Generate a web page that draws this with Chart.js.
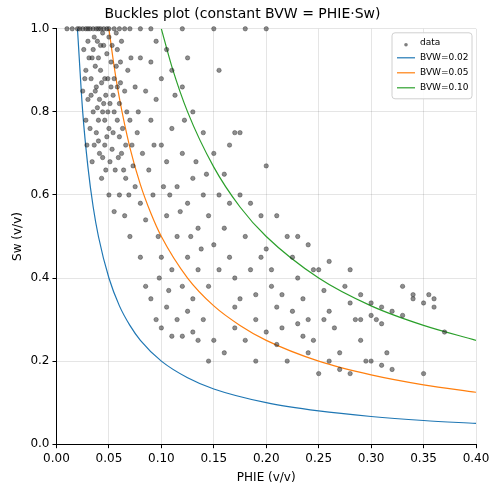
<!DOCTYPE html>
<html>
<head>
<meta charset="utf-8">
<script src="https://cdn.jsdelivr.net/npm/chart.js@4/dist/chart.umd.min.js"></script>
<style>
  html, body { margin: 0; padding: 0; background: #fff; }
  #wrap { width: 498px; height: 492px; }
</style>
</head>
<body>
<div id="wrap"><canvas id="chart"></canvas></div>
<script>
// scatter points: [PHIE, Sw]
const scatterPoints = [
  [0.01,1],[0.015,1],[0.02,1],[0.022,1],[0.025,1],[0.028,1],[0.03,1],[0.032,1],[0.035,1],[0.038,1],
  [0.04,1],[0.042,1],[0.045,1],[0.048,1],[0.05,1],[0.055,1],[0.06,1],[0.065,1],[0.07,1],[0.08,1],
  [0.09,1],[0.12,1],[0.15,1],[0.18,1],[0.2,1],
  [0.03,0.97],[0.035,0.95],[0.04,0.93],[0.045,0.96],[0.05,0.98],[0.028,0.9],[0.033,0.88],[0.038,0.86],
  [0.042,0.9],[0.047,0.84],[0.052,0.92],[0.055,0.88],[0.058,0.95],[0.06,0.82],[0.035,0.8],[0.04,0.78],
  [0.045,0.82],[0.05,0.76],[0.055,0.8],[0.06,0.74],[0.065,0.85],[0.068,0.9],[0.07,0.78],[0.03,0.83],
  [0.032,0.76],[0.036,0.72],[0.041,0.7],[0.046,0.72],[0.051,0.68],[0.056,0.66],[0.062,0.7],[0.066,0.64],
  [0.072,0.72],[0.075,0.86],[0.078,0.8],[0.08,0.93],[0.044,0.99],[0.039,0.97],[0.048,0.94],[0.053,0.96],
  [0.057,0.99],[0.062,0.97],[0.043,0.87],[0.049,0.88],[0.054,0.84],[0.037,0.91],[0.041,0.83],[0.046,0.78],
  [0.058,0.78],[0.063,0.76],[0.028,0.78],[0.025,0.85],[0.034,0.68],[0.043,0.64],[0.05,0.6],[0.055,0.56],
  [0.06,0.6],[0.065,0.55],[0.07,0.5],[0.075,0.62],[0.08,0.58],[0.085,0.54],[0.04,0.73],[0.047,0.66],
  [0.031,0.93],[0.036,0.98],[0.044,0.8],[0.052,0.86],[0.057,0.91],[0.061,0.87],[0.067,0.8],[0.071,0.93],
  [0.026,0.95],[0.033,0.84],[0.039,0.81],[0.048,0.74],[0.053,0.71],[0.059,0.69],[0.064,0.66],[0.069,0.6],
  [0.029,0.72],[0.034,0.93],[0.038,0.75],[0.042,0.96],[0.046,0.88],[0.051,0.82],[0.054,0.75],[0.058,0.86],
  [0.044,0.69],[0.049,0.8],[0.061,0.92],[0.066,0.72],[0.073,0.67],[0.077,0.75],[0.027,0.88],[0.037,0.85],
  [0.085,0.85],[0.09,0.78],[0.095,0.83],[0.1,0.72],[0.105,0.68],[0.11,0.76],[0.115,0.62],[0.12,0.7],
  [0.125,0.58],[0.13,0.64],[0.135,0.52],[0.14,0.6],[0.145,0.55],[0.15,0.48],[0.088,0.66],[0.092,0.6],
  [0.097,0.5],[0.1,0.45],[0.105,0.55],[0.11,0.42],[0.115,0.5],[0.12,0.38],[0.125,0.45],[0.13,0.35],
  [0.135,0.42],[0.14,0.3],[0.145,0.38],[0.15,0.25],[0.08,0.45],[0.085,0.38],[0.09,0.35],[0.095,0.3],
  [0.1,0.28],[0.105,0.33],[0.11,0.26],[0.115,0.3],[0.12,0.26],[0.09,0.92],[0.1,0.88],[0.11,0.9],
  [0.12,0.86],[0.13,0.8],[0.14,0.75],[0.15,0.7],[0.155,0.9],[0.16,0.65],[0.17,0.75],[0.175,0.6],
  [0.125,0.93],[0.105,0.95],[0.095,0.97],[0.082,0.7],[0.093,0.72],[0.102,0.62],[0.108,0.6],[0.118,0.56],
  [0.128,0.5],[0.138,0.47],[0.143,0.65],[0.133,0.68],[0.122,0.78],[0.113,0.84],[0.098,0.4],[0.107,0.37],
  [0.155,0.6],[0.16,0.52],[0.165,0.45],[0.17,0.4],[0.175,0.35],[0.18,0.5],[0.185,0.42],[0.19,0.3],
  [0.195,0.55],[0.2,0.47],[0.205,0.38],[0.21,0.33],[0.215,0.28],[0.22,0.5],[0.225,0.45],[0.23,0.4],
  [0.235,0.35],[0.24,0.3],[0.245,0.25],[0.25,0.42],[0.255,0.37],[0.26,0.32],[0.265,0.28],[0.27,0.22],
  [0.275,0.38],[0.28,0.34],[0.285,0.3],[0.29,0.25],[0.295,0.2],[0.3,0.34],[0.305,0.3],[0.31,0.33],
  [0.315,0.22],[0.32,0.18],[0.33,0.38],[0.34,0.35],[0.35,0.34],[0.355,0.36],[0.36,0.35],[0.37,0.27],
  [0.35,0.17],[0.16,0.22],[0.17,0.28],[0.18,0.25],[0.19,0.2],[0.2,0.27],[0.21,0.24],[0.22,0.2],
  [0.23,0.29],[0.24,0.22],[0.25,0.17],[0.26,0.2],[0.27,0.18],[0.28,0.17],[0.29,0.3],[0.3,0.2],
  [0.31,0.19],[0.165,0.72],[0.175,0.75],[0.2,0.67],[0.185,0.58],[0.21,0.55],[0.24,0.48],[0.26,0.44],
  [0.23,0.5],[0.28,0.42],[0.29,0.36],[0.3,0.31],[0.31,0.29],[0.32,0.32],[0.33,0.31],[0.34,0.36],
  [0.36,0.33],[0.245,0.42],[0.255,0.3],[0.205,0.42],[0.215,0.36],[0.19,0.36],[0.17,0.33],[0.155,0.42],
  [0.145,0.2],[0.13,0.27],[0.125,0.32],[0.135,0.25],[0.225,0.32],[0.235,0.26],[0.195,0.45],[0.165,0.58]
];

// curve points, BVW = 0.02 / 0.05 / 0.10
const phi002 = [0.02,0.025,0.03,0.035,0.04,0.05,0.06,0.07,0.08,0.1,0.125,0.15,0.2,0.25,0.3,0.35,0.4];
const sw002  = [1,0.8,0.667,0.571,0.5,0.4,0.333,0.286,0.25,0.2,0.16,0.133,0.1,0.08,0.0667,0.0571,0.05];
const phi005 = [0.05,0.055,0.06,0.07,0.08,0.09,0.1,0.125,0.15,0.175,0.2,0.25,0.3,0.35,0.4];
const sw005  = [1,0.909,0.833,0.714,0.625,0.556,0.5,0.4,0.333,0.286,0.25,0.2,0.167,0.143,0.125];
const phi010 = [0.1,0.11,0.125,0.15,0.175,0.2,0.25,0.3,0.35,0.4];
const sw010  = [1,0.909,0.8,0.667,0.571,0.5,0.4,0.333,0.286,0.25];

const xTicks = [0,0.05,0.1,0.15,0.2,0.25,0.3,0.35,0.4];
const yTicks = [0,0.2,0.4,0.6,0.8,1.0];

const toXY = (xs, ys) => xs.map((x, i) => ({ x: x, y: ys[i] }));
const font = { family: 'DejaVu Sans', size: 12 };

const curve = (label, xs, ys, color) => ({
  label: label,
  data: toXY(xs, ys),
  showLine: true,
  borderColor: color,
  backgroundColor: color,
  borderWidth: 1.2,
  pointRadius: 0,
  cubicInterpolationMode: 'monotone',
});

// matplotlib-like legend in the upper right corner of the plot area
const insideLegend = {
  id: 'insideLegend',
  afterDraw(chart) {
    const { ctx, chartArea } = chart;
    const items = chart.data.datasets;
    const w = 80, rowH = 15, h = items.length * rowH + 6;
    const x0 = chartArea.right - w - 4, y0 = chartArea.top + 4;
    ctx.save();
    ctx.fillStyle = 'rgba(255,255,255,0.85)';
    ctx.strokeStyle = '#d0d0d0';
    ctx.lineWidth = 1;
    ctx.beginPath();
    ctx.roundRect(x0, y0, w, h, 3);
    ctx.fill();
    ctx.stroke();
    ctx.font = '9px DejaVu Sans';
    ctx.textBaseline = 'middle';
    items.forEach((ds, i) => {
      const cy = y0 + 10 + i * rowH;
      if (ds.showLine) {
        ctx.strokeStyle = ds.borderColor;
        ctx.lineWidth = 1.2;
        ctx.beginPath();
        ctx.moveTo(x0 + 5, cy);
        ctx.lineTo(x0 + 23, cy);
        ctx.stroke();
      } else {
        ctx.fillStyle = 'rgba(40,40,40,0.6)';
        ctx.beginPath();
        ctx.arc(x0 + 14, cy + 2, 1.8, 0, Math.PI * 2);
        ctx.fill();
      }
      ctx.fillStyle = '#000';
      ctx.fillText(ds.label, x0 + 28, cy);
    });
    ctx.restore();
  }
};

new Chart(document.getElementById('chart').getContext('2d'), {
  type: 'scatter',
  data: {
    datasets: [
      {
        label: 'data',
        data: toXY(scatterPoints.map(p => p[0]), scatterPoints.map(p => p[1])),
        backgroundColor: 'rgba(30,30,30,0.5)',
        borderColor: 'rgba(30,30,30,0.6)',
        pointRadius: 2.2,
        borderWidth: 0.6,
        clip: 3,
      },
      curve('BVW=0.02', phi002, sw002, '#1f77b4'),
      curve('BVW=0.05', phi005, sw005, '#ff7f0e'),
      curve('BVW=0.10', phi010, sw010, '#2ca02c'),
    ]
  },
  options: {
    responsive: true,
    maintainAspectRatio: false,
    animation: false,
    layout: { padding: { left: 9, right: 22, top: 2, bottom: 5 } },
    scales: {
      x: {
        type: 'linear',
        min: 0, max: 0.4,
        afterBuildTicks: axis => { axis.ticks = xTicks.map(v => ({ value: v })); },
        ticks: { color: '#000', font: font, callback: v => v.toFixed(2) },
        grid: { color: 'rgba(0,0,0,0.1)', tickColor: '#000', tickLength: 4 },
        border: { color: '#000' },
        title: { display: true, text: 'PHIE (v/v)', color: '#000', font: font, padding: 2 },
      },
      y: {
        min: 0, max: 1,
        afterBuildTicks: axis => { axis.ticks = yTicks.map(v => ({ value: v })); },
        ticks: { color: '#000', font: font, callback: v => v.toFixed(1) },
        grid: { color: 'rgba(0,0,0,0.1)', tickColor: '#000', tickLength: 4 },
        border: { color: '#000' },
        title: { display: true, text: 'Sw (v/v)', color: '#000', font: font, padding: 2 },
      },
    },
    plugins: {
      legend: { display: false },
      tooltip: { enabled: false },
      title: {
        display: true,
        text: 'Buckles plot (constant BVW = PHIE·Sw)',
        color: '#000',
        font: { family: 'DejaVu Sans', size: 14, weight: 'normal' },
        padding: { top: 4, bottom: 6 },
      },
    },
  },
  plugins: [insideLegend],
});
</script>
</body>
</html>
